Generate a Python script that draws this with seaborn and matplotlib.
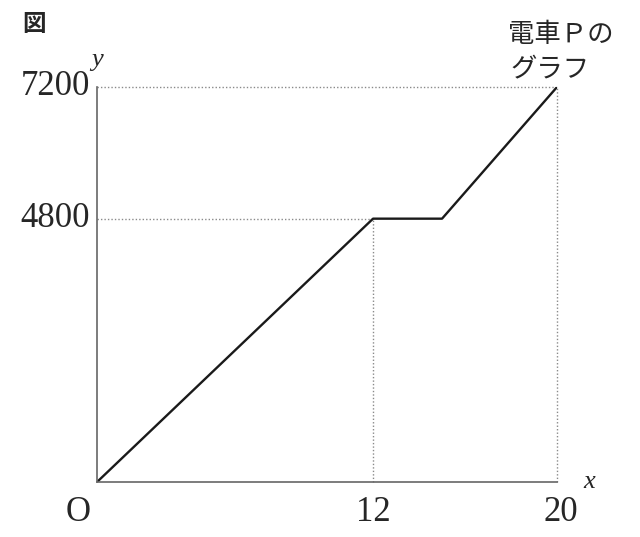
import matplotlib
matplotlib.use("Agg")
import matplotlib.pyplot as plt
import pandas as pd
import seaborn as sns

sns.set_theme(style="white")
plt.rcParams["font.family"] = ["Liberation Serif", "Noto Sans CJK JP", "DejaVu Sans"]

# -------- data --------
time_min = [0, 12, 15, 20]
distance_m = [0, 4800, 4800, 7200]
x_ticks = [12, 20]
y_ticks = [4800, 7200]
x_max, y_max = 20, 7200

df = pd.DataFrame({"x": time_min, "y": distance_m})

fig = plt.figure(figsize=(6.4, 5.37), dpi=100)
ax = fig.add_axes([0.1516, 0.1024, 0.7188, 0.7356])

# guide lines (dotted)
dot = dict(color="#8a8a8a", linestyle=(0, (1, 1.5)), linewidth=1.0, clip_on=False)
ax.hlines(y_max, 0, x_max, **dot)
ax.vlines(x_max, 0, y_max, **dot)
ax.hlines(y_ticks[0], 0, x_ticks[0], **dot)
ax.vlines(x_ticks[0], 0, y_ticks[0], **dot)

sns.lineplot(data=df, x="x", y="y", ax=ax, color="#1a1a1a", linewidth=1.7)

ax.set_xlim(0, x_max)
ax.set_ylim(0, y_max)
ax.set_xticks([])
ax.set_yticks([])
ax.set_xlabel("")
ax.set_ylabel("")
for s in ["top", "right"]:
    ax.spines[s].set_visible(False)
for s in ["left", "bottom"]:
    ax.spines[s].set_color("#666666")
    ax.spines[s].set_linewidth(1.2)

# tick labels as text
num_fs = 25
for v in x_ticks:
    ax.text(v + (0.15 if v == x_max else 0), -250, str(v), ha="center", va="top",
            fontsize=num_fs)
for v in y_ticks:
    ax.text(-0.3, v, str(v), ha="right", va="center", fontsize=num_fs)
ax.text(-0.8, -250, "O", ha="center", va="top", fontsize=num_fs)

ax.text(0.0, 7500, "y", ha="center", va="bottom", fontsize=19, style="italic")
ax.text(21.4, 0, "x", ha="center", va="center", fontsize=19, style="italic")

fig.text(0.035, 0.955, "図", ha="left", va="center", fontsize=17, fontweight="bold",
         family=["Noto Sans CJK JP"])
fig.text(0.793, 0.935, "電車Ｐの", ha="left", va="center", fontsize=19,
         family=["Noto Sans CJK JP"])
fig.text(0.797, 0.87, "グラフ", ha="left", va="center", fontsize=19,
         family=["Noto Sans CJK JP"])

fig.savefig("out.png", dpi=100)
